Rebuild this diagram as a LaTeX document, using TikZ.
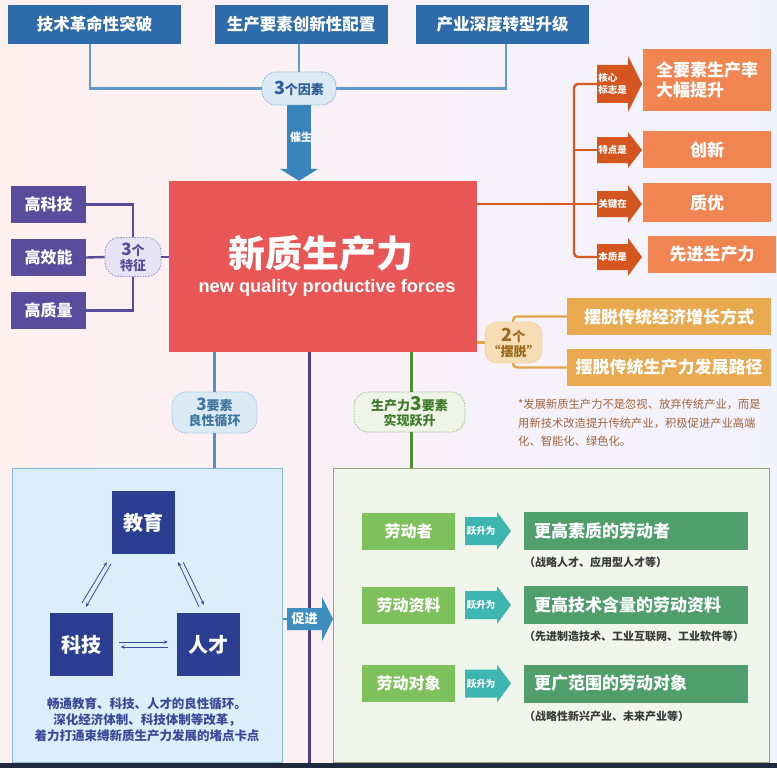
\documentclass[tikz,border=0pt]{standalone}
\usepackage{fontspec}
\setmainfont{Noto Sans CJK SC}
\newfontfamily\enfont{Liberation Sans}
\usetikzlibrary{arrows.meta,calc}
\definecolor{topblue}{HTML}{2E6BAA}
\definecolor{toplin}{HTML}{5E9BC8}
\definecolor{ovblue}{HTML}{DCEAF6}
\definecolor{ovbluetx}{HTML}{2B5C99}
\definecolor{cuisheng}{HTML}{3A84BE}
\definecolor{redbox}{HTML}{E85656}
\definecolor{purp}{HTML}{5A4C9C}
\definecolor{purpov}{HTML}{E6E3F4}
\definecolor{orline}{HTML}{D65A22}
\definecolor{orarrow}{HTML}{D4561E}
\definecolor{orbox}{HTML}{F08552}
\definecolor{gold}{HTML}{E9A94E}
\definecolor{goldln}{HTML}{E2A548}
\definecolor{goldov}{HTML}{F7DDB5}
\definecolor{goldtx}{HTML}{9A6A1E}
\definecolor{notetx}{HTML}{A0643C}
\definecolor{midblue}{HTML}{4D94C4}
\definecolor{lpfill}{HTML}{DCEEF9}
\definecolor{lpdraw}{HTML}{8BBBD8}
\definecolor{dkblue}{HTML}{2C3E92}
\definecolor{lptx}{HTML}{3B4A98}
\definecolor{cujin}{HTML}{3D8FBF}
\definecolor{vpurp}{HTML}{4B3F8C}
\definecolor{grline}{HTML}{4D8C35}
\definecolor{grov}{HTML}{EEF5E6}
\definecolor{grovtx}{HTML}{3F7A2B}
\definecolor{gpfill}{HTML}{F0F6EC}
\definecolor{gpdraw}{HTML}{8CA87A}
\definecolor{ltgreen}{HTML}{7DC05C}
\definecolor{teal}{HTML}{3DB6B2}
\definecolor{dkgreen}{HTML}{4F9E6C}
\definecolor{subtx}{HTML}{3A3A3A}
\definecolor{strip}{HTML}{1F2B3C}
\newcommand\fsz[1]{\fontsize{#1}{#1}\selectfont}
\newcommand\bignum[2]{{\fontsize{#1}{15}\selectfont #2}}
% name, xl, xb, xt, yc, half body, half head, fill colour, text
\newcommand\farrow[9]{%
  \fill[#8] ({#2},{#5-#6}) -- ({#3},{#5-#6}) -- ({#3},{#5-#7}) -- ({#4},{#5})
     -- ({#3},{#5+#7}) -- ({#3},{#5+#6}) -- ({#2},{#5+#6}) -- cycle;
  \node[inner sep=0, minimum width={#3-#2}, minimum height={2*#6}, align=center,
        text=white, font=\bfseries\fontsize{9.5}{12}\selectfont] (#1) at ({(#2+#3)/2},{#5}) {#9};}
\tikzset{
  box/.style={inner sep=0, text=white, font=\bfseries},
  topbox/.style={box, fill=topblue, minimum width=173pt, minimum height=39pt, font=\bfseries\fsz{16.5}},
  purbox/.style={box, fill=purp, minimum width=75pt, minimum height=37pt, font=\bfseries\fsz{16}},
  orbx/.style={box, fill=orbox, minimum width=128pt, font=\bfseries\fontsize{17}{20}\selectfont},
  goldbx/.style={box, fill=gold, minimum width=204pt, minimum height=37pt, font=\bfseries\fsz{17}},
  oval/.style={inner sep=0, rounded corners=14pt, draw, dash pattern=on 1.6pt off 1.2pt, line width=0.8pt, align=center, font=\bfseries\fontsize{13}{15}\selectfont},
  lnk/.style={line width=2.4pt},
  dkbx/.style={box, fill=dkblue, minimum width=63pt, minimum height=63pt, font=\bfseries\fsz{20}},
  thin/.style={draw=lptx, line width=0.8pt, -{Stealth[length=4pt,width=3.5pt]}},
  lgbx/.style={box, fill=ltgreen, minimum width=93pt, minimum height=37pt, font=\bfseries\fsz{16}},
  dgbx/.style={box, fill=dkgreen, minimum width=224pt, minimum height=38pt},
  dgtx/.style={anchor=west, inner sep=0, text=white, font=\bfseries\fsz{17}},
  subt/.style={anchor=west, inner sep=0, text=subtx, font=\bfseries\fsz{11}},
}
\begin{document}
\begin{tikzpicture}[x=1pt,y=-1pt]
\useasboundingbox (0,0) rectangle (777,768);
\fill[left color=red!6!white, right color=blue!5!white] (0,0) rectangle (777,768);
\fill[strip] (0,763) rectangle (777,768);
\fill[vpurp] (488,763) -- (495,757) -- (502,763) -- cycle;

% top factors
\node[topbox] (t1) at (94.5,24.5) {技术革命性突破};
\node[topbox] (t2) at (301,24.5) {生产要素创新性配置};
\node[topbox] (t3) at (502.5,24.5) {产业深度转型升级};
\node[oval, draw=toplin!80, fill=ovblue, text=ovbluetx, minimum width=74pt, minimum height=33pt] (o1) at (299,88.5) {\bignum{18}{3}个因素};
\draw[lnk, toplin] ([xshift=-4.5pt]t1.south) |- (o1.west);
\draw[lnk, toplin] ([xshift=3.5pt]t3.south) |- (o1.east);
\draw[lnk, toplin] (t2.south -| o1.north) -- (o1.north);

% core
\node[fill=redbox, minimum width=308pt, minimum height=171pt, inner sep=0] (core) at (323,266.5) {};
\draw[line width=24pt, cuisheng, -{Triangle[length=12pt,width=38pt]}] (o1.south) -- (o1.south |- core.north);
\node[text=white, font=\bfseries\fsz{11}] (cs) at (301,137) {催生};
\node[text=white, font=\bfseries\fsz{37}] (ct) at (321,253) {新质生产力};
\node[text=white, font=\enfont\bfseries\fsz{18.2}] (ce) at (327,288) {new quality productive forces};

% three features
\node[purbox] (p1) at (48.5,204.5) {高科技};
\node[purbox] (p2) at (48.5,257.5) {高效能};
\node[purbox] (p3) at (48.5,310.5) {高质量};
\node[oval, draw=purp!60, fill=purpov, text=purp, minimum width=56pt, minimum height=39pt] (o2) at (133,257) {\bignum{17}{3}个\\特征};
\draw[lnk, purp] (p1.east) -| (o2.north);
\draw[lnk, purp] (p3.east) -| (o2.south);
\draw[lnk, purp] (p2.east) -- (o2.west);
\draw[lnk, purp] (o2.east) -- (o2.east -| core.west);

% orange branch
\node[orbx, minimum height=62pt, align=left] (q1) at (707,80) {全要素生产率\\大幅提升};
\node[orbx, minimum height=37pt] (q2) at (707,149.5) {创新};
\node[orbx, minimum height=39pt] (q3) at (707,202.5) {质优};
\node[orbx, minimum height=37pt] (q4) at (712,254.5) {先进生产力};
\farrow{a1}{597}{628}{642}{84}{19}{28}{orarrow}{核心\phantom{是}\\标志是}
\farrow{a2}{597}{628}{642}{150}{13}{18}{orarrow}{特点是}
\farrow{a3}{597}{628}{642}{204}{13}{19}{orarrow}{关键在}
\farrow{a4}{597}{628}{642}{257}{13}{19}{orarrow}{本质是}
\coordinate (oa) at (574,84);
\coordinate (ob) at (574,257);
\draw[lnk, orline, rounded corners=4pt] (a1.west) -- (oa) -- (ob) -- (a4.west);
\draw[lnk, orline] (a2.west) -- (a2.west -| oa);
\draw[lnk, orline] (core.east |- a3.west) -- (a3.west);

% two breakaways
\node[goldbx] (b1) at (669,316.5) {摆脱传统经济增长方式};
\node[goldbx] (b2) at (669,367.5) {摆脱传统生产力发展路径};
\coordinate (bt) at (513,316.5);
\coordinate (bb) at (513,367.5);
\draw[lnk, goldln, rounded corners=4pt] (b1.west) -- (bt) -- (bb) -- (b2.west);
\node[oval, draw=goldln!60, fill=goldov, text=goldtx, minimum width=57pt, minimum height=41pt, rounded corners=12pt] (o5) at (513.5,342.5) {\bignum{18}{2}个\\“摆脱”};
\draw[lnk, goldln] (core.east |- o5.west) -- (o5.west);
\node[anchor=west, inner sep=0, text=notetx, align=left, font=\fontsize{11.3}{18.5}\selectfont] (note) at (518,423) {*发展新质生产力不是忽视、放弃传统产业，而是\\用新技术改造提升传统产业，积极促进产业高端\\化、智能化、绿色化。};

% left panel
\node[oval, draw=midblue!60, fill=ovblue, text=midblue!80!black, minimum width=85pt, minimum height=41pt] (o3) at (214.5,412.5) {\bignum{17}{3}要素\\良性循环};
\node[draw=lpdraw, line width=1pt, fill=lpfill, minimum width=270pt, minimum height=294pt, inner sep=0] (lp) at (147,615) {};
\draw[lnk, midblue] (o3.north |- core.south) -- (o3.north);
\draw[lnk, midblue] (o3.south) -- (o3.south |- lp.north);
\node[dkbx] (jy) at (143.5,522.5) {教育};
\node[dkbx] (kj) at (81,644.5) {科技};
\node[dkbx] (rc) at (208.5,644.5) {人才};
\draw[thin] ([shift={(1,-10)}]kj.north) -- ([shift={(-5,8)}]jy.south west);
\draw[thin] ([shift={(-1,10)}]jy.south west) -- ([shift={(5,-6)}]kj.north);
\draw[thin] ([shift={(-9.5,-6)}]rc.north) -- ([shift={(3,8)}]jy.south east);
\draw[thin] ([shift={(8,8)}]jy.south east) -- ([shift={(-4.5,-8)}]rc.north);
\draw[thin] ([shift={(6,-2.5)}]kj.east) -- ([shift={(-9,-2.5)}]rc.west);
\draw[thin] ([shift={(-9,2.5)}]rc.west) -- ([shift={(8,2.5)}]kj.east);
\node[text=lptx, align=center, inner sep=0, font=\bfseries\fontsize{12.5}{16}\selectfont] (lt) at (147,720) {畅通教育、科技、人才的良性循环。\\深化经济体制、科技体制等改革，\\着力打通束缚新质生产力发展的堵点卡点};

% divider
\coordinate (pend) at (309,763);
\draw[line width=3pt, vpurp] (pend |- core.south) -- (pend);

% promote arrow
\farrow{cj}{287}{322}{333}{619}{11}{22}{cujin}{\fsz{13}促进}
\draw[line width=1.5pt, cujin] (lp.east |- cj.west) -- (cj.west);

% right panel
\node[oval, draw=grline!60, fill=grov, text=grovtx, minimum width=111pt, minimum height=40pt] (o4) at (409.5,412) {生产力\bignum{19}{3}要素\\实现跃升};
\node[draw=gpdraw, line width=1pt, fill=gpfill, minimum width=436pt, minimum height=294pt, inner sep=0] (gp) at (551,615) {};
\draw[lnk, grline] ([xshift=2pt]o4.north |- core.south) -- ([xshift=2pt]o4.north);
\draw[lnk, grline] ([xshift=2pt]o4.south) -- ([xshift=2pt]o4.south |- gp.north);

\node[lgbx] (g1) at (408.5,531) {劳动者};
\node[lgbx] (g2) at (408.5,605) {劳动资料};
\node[lgbx] (g3) at (408.5,683.5) {劳动对象};
\node[dgbx] (r1) at (636,531) {};
\node[dgbx] (r2) at (636,605) {};
\node[dgbx] (r3) at (636,683.5) {};
\node[dgtx] (r1t) at ([xshift=10pt]r1.west) {更高素质的劳动者};
\node[dgtx] (r2t) at ([xshift=10pt]r2.west) {更高技术含量的劳动资料};
\node[dgtx] (r3t) at ([xshift=10pt]r3.west) {更广范围的劳动对象};
\farrow{y1}{465}{497}{511}{531}{14}{19}{teal}{跃升为}
\farrow{y2}{465}{497}{511}{605}{14}{19}{teal}{跃升为}
\farrow{y3}{465}{497}{511}{683.5}{14}{19}{teal}{跃升为}
\node[subt] (s1) at (r1.south west |- 0,562) {（战略人才、应用型人才等）};
\node[subt] (s2) at (r2.south west |- 0,636) {（先进制造技术、工业互联网、工业软件等）};
\node[subt] (s3) at (r3.south west |- 0,716) {（战略性新兴产业、未来产业等）};
\end{tikzpicture}
\end{document}
